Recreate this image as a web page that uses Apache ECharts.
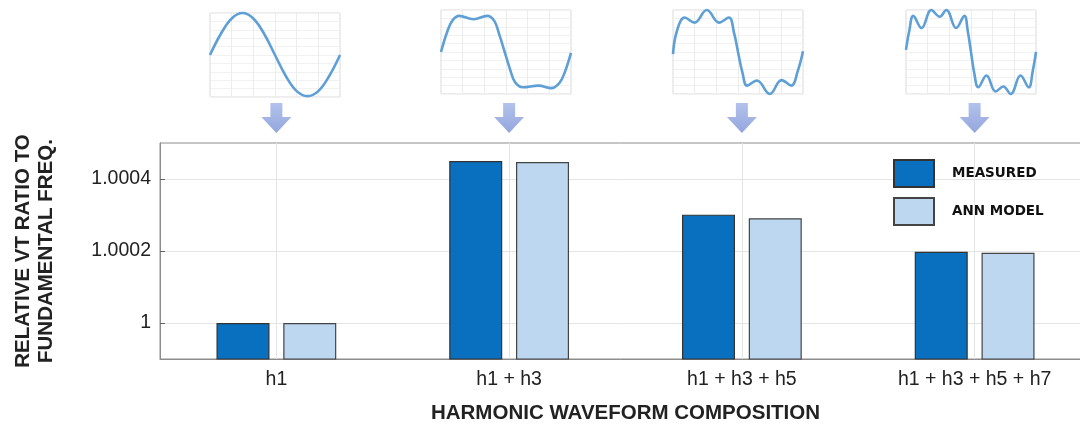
<!DOCTYPE html>
<html>
<head>
<meta charset="utf-8">
<script src="https://cdn.jsdelivr.net/npm/echarts@6/dist/echarts.min.js"></script>
<style>
  html, body { margin: 0; padding: 0; background: #fff; }
  #myChart1 { width: 1080px; height: 425px; }
</style>
</head>
<body>
<div id="myChart1"></div>
<script>
// categories / values
const categories = ["h1", "h1 + h3", "h1 + h3 + h5", "h1 + h3 + h5 + h7"];
const measured = [1.0, 1.00045, 1.000301, 1.000198];
const annModel = [1.0, 1.000447, 1.000291, 1.000195];
const yTicks = [1, 1.0002, 1.0004];
const arrowLevel = [0.5, 0.5, 0.5, 0.5];

// little waveform thumbnails, [x fraction, level]
const waveH1 = [
  [0, 0], [0.083, 0.5], [0.167, 0.87], [0.25, 1], [0.333, 0.87], [0.417, 0.5],
  [0.5, 0], [0.583, -0.5], [0.667, -0.86], [0.75, -0.98], [0.833, -0.86], [0.917, -0.5], [1, 0]
];
const waveH13 = [
  [0, 0], [0.05, 0.5], [0.09, 0.76], [0.14, 0.86], [0.25, 0.78], [0.355, 0.86], [0.41, 0.74],
  [0.45, 0.4], [0.49, 0], [0.53, -0.4], [0.57, -0.72], [0.63, -0.84], [0.75, -0.8],
  [0.85, -0.86], [0.91, -0.74], [0.95, -0.5], [1, -0.02]
];
const waveH135 = [
  [0, -0.05], [0.03, 0.5], [0.09, 0.82], [0.165, 0.7], [0.26, 1], [0.355, 0.7], [0.43, 0.82],
  [0.47, 0.45], [0.5, 0], [0.535, -0.5], [0.57, -0.8], [0.645, -0.68], [0.745, -1],
  [0.835, -0.67], [0.91, -0.8], [0.96, -0.45], [1, 0.02]
];
const waveH1357 = [
  [0, 0.05], [0.025, 0.5], [0.056, 0.86], [0.12, 0.57], [0.195, 1], [0.259, 0.84], [0.31, 1],
  [0.386, 0.57], [0.449, 0.86], [0.475, 0.5], [0.5, 0], [0.525, -0.5], [0.556, -0.84],
  [0.619, -0.56], [0.69, -0.94], [0.749, -0.82], [0.805, -1], [0.881, -0.56], [0.944, -0.84],
  [0.975, -0.45], [1, 0]
];
const waves = [waveH1, waveH13, waveH135, waveH1357];

const fontFamily = "'Liberation Sans', Arial, sans-serif";
const frameColor = "#8c8c8c";
const gridColor = "#e4e4e4";

// thumbnail boxes above each group
const thumbBoxes = [
  { left: 210, top: 13 },
  { left: 441, top: 10 },
  { left: 673, top: 10 },
  { left: 906, top: 10 }
];

const myChart = echarts.init(document.getElementById("myChart1"));

const grids = [
  // main bar plot (runs off the right edge like the original)
  { left: 160, width: 931, top: 143, height: 216, outerBoundsMode: "none", show: true, borderColor: frameColor, borderWidth: 1 },
  // arrow row
  { left: 160, width: 931, top: 103, height: 30, outerBoundsMode: "none" }
];
thumbBoxes.forEach(function (b) {
  grids.push({ left: b.left, top: b.top, width: 130, height: 84, outerBoundsMode: "none", show: true, borderColor: "#dadada", borderWidth: 1 });
});

const xAxes = [
  {
    type: "category",
    data: categories,
    gridIndex: 0,
    axisLine: { lineStyle: { color: frameColor, width: 1 } },
    axisTick: { inside: true, alignWithLabel: true, interval: 0, length: 5, lineStyle: { color: "#666" } },
    axisLabel: { color: "#222", fontSize: 19.5, fontFamily: fontFamily, margin: 11, interval: 0 },
    name: "HARMONIC WAVEFORM COMPOSITION",
    nameLocation: "middle",
    nameGap: 44,
    nameTextStyle: { color: "#222", fontSize: 20.5, fontWeight: "bold", fontFamily: fontFamily }
  },
  {
    type: "category",
    data: categories,
    gridIndex: 0,
    position: "top",
    axisLine: { show: false },
    axisTick: { inside: true, alignWithLabel: true, interval: 0, length: 5, lineStyle: { color: "#666" } },
    axisLabel: { show: false }
  },
  { type: "category", data: categories, gridIndex: 1, show: false }
];
const yAxes = [
  {
    type: "value",
    gridIndex: 0,
    min: 0.9999,
    max: 1.0005,
    axisLine: { show: true, lineStyle: { color: frameColor, width: 1 } },
    axisTick: { show: true, inside: true, length: 5, customValues: yTicks, lineStyle: { color: "#666" } },
    axisLabel: {
      customValues: yTicks,
      color: "#222",
      fontSize: 19.5,
      fontFamily: fontFamily,
      margin: 9,
      formatter: function (v) { return Math.abs(v - 1) < 1e-9 ? "1" : v.toFixed(4); }
    },
    splitLine: { show: true, lineStyle: { color: gridColor } },
    name: "RELATIVE VT RATIO TO\nFUNDAMENTAL FREQ.",
    nameLocation: "middle",
    nameGap: 102,
    nameTextStyle: { color: "#222", fontSize: 20.5, lineHeight: 23, fontWeight: "bold", fontFamily: fontFamily }
  },
  { type: "value", gridIndex: 1, min: 0, max: 1, show: false }
];
thumbBoxes.forEach(function (b, i) {
  xAxes.push({
    type: "value", gridIndex: 2 + i, min: 0, max: 1, interval: 1 / 6,
    axisLine: { show: false }, axisTick: { show: false }, axisLabel: { show: false },
    splitLine: { show: true, lineStyle: { color: "#ececec" } }
  });
  yAxes.push({
    type: "value", gridIndex: 2 + i, min: -1, max: 1, interval: 0.2,
    axisLine: { show: false }, axisTick: { show: false }, axisLabel: { show: false },
    splitLine: { show: true, lineStyle: { color: "#f1f1f1" } }
  });
});

const series = [
  {
    // carrier for the vertical grid lines through each group centre
    type: "line",
    xAxisIndex: 0,
    yAxisIndex: 0,
    data: [],
    silent: true,
    z: 1,
    markLine: {
      silent: true,
      symbol: "none",
      label: { show: false },
      lineStyle: { color: gridColor, width: 1, type: "solid" },
      data: categories.map(function (c) { return { xAxis: c }; })
    }
  },
  {
    name: "MEASURED",
    type: "bar",
    xAxisIndex: 0,
    yAxisIndex: 0,
    data: measured,
    barWidth: 53,
    barGap: "26%",
    itemStyle: { color: "#0870be", borderColor: "#333", borderWidth: 1.2 },
    z: 3
  },
  {
    name: "ANN MODEL",
    type: "bar",
    xAxisIndex: 0,
    yAxisIndex: 0,
    data: annModel,
    barWidth: 53,
    itemStyle: { color: "#bdd7f1", borderColor: "#444", borderWidth: 1.2 },
    z: 3
  },
  {
    type: "scatter",
    xAxisIndex: 2,
    yAxisIndex: 1,
    data: arrowLevel,
    symbol: "path://M9,0L21,0L21,14L30,14L15,30L0,14L9,14Z",
    symbolSize: [30, 30],
    silent: true,
    itemStyle: {
      color: {
        type: "linear", x: 0, y: 0, x2: 0, y2: 1,
        colorStops: [{ offset: 0, color: "#a0b3e8" }, { offset: 1, color: "#7890d4" }]
      }
    }
  }
];
waves.forEach(function (w, i) {
  series.push({
    type: "line",
    xAxisIndex: 3 + i,
    yAxisIndex: 2 + i,
    data: w,
    smooth: 0.4,
    showSymbol: false,
    clip: false,
    silent: true,
    lineStyle: { color: "#5e9fd6", width: 2.6 }
  });
});

const option = {
  backgroundColor: "#fff",
  animation: false,
  legend: {
    data: ["MEASURED", "ANN MODEL"],
    orient: "vertical",
    left: 888,
    top: 154,
    icon: "rect",
    itemWidth: 40,
    itemHeight: 27,
    itemGap: 9,
    textStyle: { color: "#111", fontSize: 13.5, fontWeight: "bold", fontFamily: "'DejaVu Sans', sans-serif", padding: [0, 0, 0, 13] }
  },
  grid: grids,
  xAxis: xAxes,
  yAxis: yAxes,
  series: series
};
myChart.setOption(option);
</script>
</body>
</html>
